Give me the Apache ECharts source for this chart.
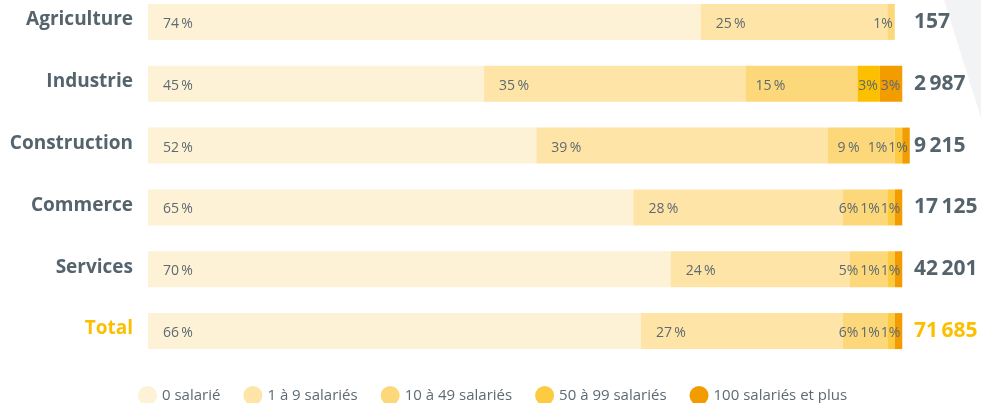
<!DOCTYPE html>
<html>
<head>
<meta charset="utf-8">
<script src="https://cdn.jsdelivr.net/npm/echarts@6/dist/echarts.min.js"></script>
<style>
  html, body { margin: 0; padding: 0; background: #fff; }
  #chart { width: 981px; height: 403px; }
</style>
</head>
<body>
<div id="chart"></div>
<script>
// secteurs (top to bottom)
const sectors = ['Agriculture', 'Industrie', 'Construction', 'Commerce', 'Services', 'Total'];
// nombre d'établissements
const totals = [157, 2987, 9215, 17125, 42201, 71685];

// part des établissements par taille (%)
const zeroSal = [74, 45, 52, 65, 70, 66];
const sal1to9 = [25, 35, 39, 28, 24, 27];
const sal10to49 = [1, 15, 9, 6, 5, 6];
const sal50to99 = [0, 3, 1, 1, 1, 1];
const sal100plus = [0, 3, 1, 1, 1, 1];

const sizeNames = ['0 salarié', '1 à 9 salariés', '10 à 49 salariés', '50 à 99 salariés', '100 salariés et plus'];
const colors = ['#fdf1d6', '#fee5a7', '#fdd87b', '#fdcb40', '#f39c00'];

const textGrey = '#55636c';
const labelGrey = '#5d6a73';
const totalYellow = '#fcbf00';
const font = 'Open Sans';

const chart = echarts.init(document.getElementById('chart'));

const allSeries = [zeroSal, sal1to9, sal10to49, sal50to99, sal100plus];

function fmtNumber(n) {
    return String(n).replace(/\B(?=(\d{3})+(?!\d))/g, '\u2009');
}

// values of the segments following this one in the row
function following(si, row) {
    const out = [];
    for (let k = si + 1; k < allSeries.length; k++) {
        if (allSeries[k][row] > 0) out.push(allSeries[k][row]);
    }
    return out;
}

// small segments get their labels packed at the end of the bar
function labelFor(v, si, row) {
    if (v >= 7) return { position: 'insideLeft', distance: si === 2 ? 10 : 15, offset: [0, 2] };
    const next = following(si, row);
    if (next.length === 0 || next.every((n) => n >= 3)) {
        return { position: 'insideRight', distance: 2, offset: [0, 2] };
    }
    // next segments are too thin for their own labels
    return { position: 'insideRight', distance: 2, offset: [next.length === 1 ? -13 : -27, 2] };
}

const series = allSeries.map((vals, si) => ({
    name: sizeNames[si],
    type: 'bar',
    stack: 'all',
    barWidth: 36,
    clip: false,
    itemStyle: {
        color: (p) => (si === 3 && p.dataIndex === 1) ? '#fcc000' : colors[si]
    },
    data: vals.map((v, row) => ({ value: v, label: labelFor(v, si, row) })),
    label: {
        show: true,
        fontFamily: font,
        fontSize: 14,
        color: labelGrey,
        formatter: (p) => p.value > 0 ? (p.value >= 7 ? p.value + '\u2009%' : p.value + '%') : ''
    },
    emphasis: { disabled: true }
}));

const option = {
    animation: false,
    textStyle: { fontFamily: font },
    color: colors,
    graphic: [{
        type: 'polygon',
        z: -10,
        shape: { points: [[944, 0], [981, 0], [981, 118]] },
        style: { fill: '#f2f3f5' }
    }],
    legend: {
        left: 138,
        top: 386,
        padding: 0,
        icon: 'circle',
        itemWidth: 19,
        itemHeight: 19,
        itemGap: 23,
        textStyle: { fontFamily: font, fontSize: 15, color: labelGrey },
        data: sizeNames
    },
    grid: {
        left: 148,
        right: 75,
        top: -9,
        height: 371,
        containLabel: false,
        outerBoundsMode: 'none'
    },
    xAxis: {
        type: 'value',
        min: 0,
        max: 101.5,
        show: false
    },
    yAxis: [{
        type: 'category',
        inverse: true,
        data: sectors,
        axisLine: { show: false },
        axisTick: { show: false },
        splitLine: { show: false },
        axisLabel: {
            margin: 15,
            formatter: (v) => v === 'Total' ? '{t|' + v + '}' : '{n|' + v + '}',
            rich: {
                n: { fontFamily: font, fontSize: 19, fontWeight: 'bold', color: textGrey, padding: [0, 0, 4, 0] },
                t: { fontFamily: font, fontSize: 19, fontWeight: 'bold', color: totalYellow, padding: [0, 0, 4, 0] }
            }
        }
    }, {
        type: 'category',
        inverse: true,
        position: 'right',
        data: totals.map(fmtNumber),
        axisLine: { show: false },
        axisTick: { show: false },
        splitLine: { show: false },
        axisLabel: {
            margin: 8,
            formatter: (v, i) => i === totals.length - 1 ? '{t|' + v + '}' : '{n|' + v + '}',
            rich: {
                n: { fontFamily: font, fontSize: 21, fontWeight: 'bold', color: textGrey },
                t: { fontFamily: font, fontSize: 21, fontWeight: 'bold', color: totalYellow }
            }
        }
    }],
    series: series
};

chart.setOption(option);
</script>
</body>
</html>
